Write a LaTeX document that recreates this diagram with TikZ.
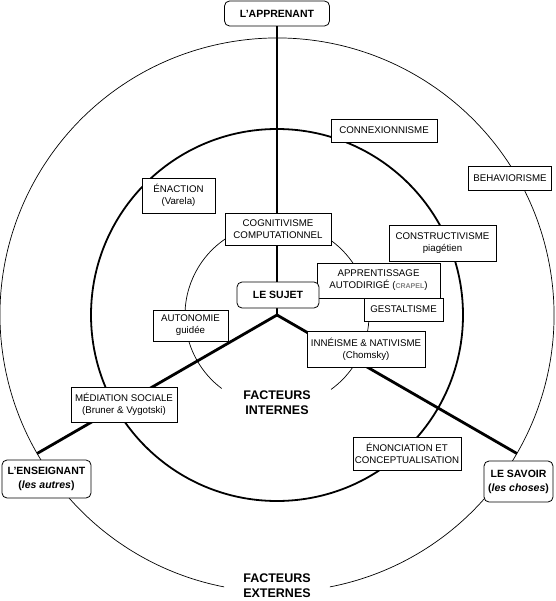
\documentclass[tikz,border=0pt]{standalone}
\usepackage{fontspec}
\setmainfont{Liberation Sans}
\usetikzlibrary{calc}
\begin{document}
\begin{tikzpicture}[x=1pt,y=-1pt,
  box/.style={draw, fill=white, line width=0.8pt, inner sep=0pt, align=center,
    font=\fontsize{9.7}{12}\selectfont},
  rbox/.style={box, rounded corners=5pt, font=\bfseries\fontsize{10.5}{14}\selectfont},
  radial/.style={line width=2.8pt},
  thincirc/.style={line width=0.7pt},
  midcirc/.style={line width=1.8pt},
  bigtext/.style={align=center, font=\bfseries\fontsize{12.5}{15}\selectfont}
]
\useasboundingbox (0,0) rectangle (555,601);
\coordinate (c) at (277,315);
% circles
\draw[thincirc] (c) ++(-54:92pt) arc[start angle=-54, end angle=233, radius=92pt];
\draw[midcirc] (c) circle[radius=186pt];
\draw[thincirc] (c) ++(-79:277pt) arc[start angle=-79, end angle=259, radius=277pt];
% radial end points
\coordinate (eL) at ($(c)+(210:277pt)$);
\coordinate (eR) at ($(c)+(330:277pt)$);
% top box
\node[rbox, minimum width=105pt, minimum height=25pt] (app) at (277,13.5) {L'APPRENANT};
\draw[radial] (app.south) -- (c);
\draw[radial] (c) -- (eL);
\draw[radial] (c) -- (eR);
% boxes
\node[box, minimum width=73pt, minimum height=35pt] (enaction) at (178.5,195.5) {ÉNACTION\\(Varela)};
\node[box, minimum width=106pt, minimum height=32pt] (cogn) at (278,229) {COGNITIVISME\\COMPUTATIONNEL};
\node[box, minimum width=106pt, minimum height=23pt] (connex) at (384,130.5) {CONNEXIONNISME};
\node[box, minimum width=83pt, minimum height=24pt] (behav) at (510,178) {BEHAVIORISME};
\node[box, minimum width=107pt, minimum height=36pt] (constr) at (442.5,243) {CONSTRUCTIVISME\\piagétien};
\node[box, minimum width=123pt, minimum height=35pt] (apprent) at (378.5,280.5) {APPRENTISSAGE\\AUTODIRIGÉ ({\color{gray}\bfseries\fontsize{7}{8}\selectfont CRAPEL})};
\node[box, minimum width=79pt, minimum height=23pt] (gestalt) at (403.5,309.5) {GESTALTISME};
\node[rbox, minimum width=82pt, minimum height=26pt] (sujet) at (278,295) {LE SUJET};
\node[box, minimum width=75pt, minimum height=31pt] (auton) at (190.5,325.5) {AUTONOMIE\\guidée};
\node[box, minimum width=118pt, minimum height=36pt] (inneisme) at (366,349) {INNÉISME \& NATIVISME\\(Chomsky)};
\node[box, minimum width=106pt, minimum height=35pt] (mediation) at (124,404.5) {MÉDIATION SOCIALE\\(Bruner \& Vygotski)};
\node[box, minimum width=108pt, minimum height=33pt] (enonc) at (407,453.5) {ÉNONCIATION ET\\CONCEPTUALISATION};
\node[rbox, minimum width=89pt, minimum height=38pt] (enseignant) at (46.5,479) {L'ENSEIGNANT\\(\textit{les autres})};
\node[rbox, minimum width=69pt, minimum height=41pt] (savoir) at (518.5,481.5) {LE SAVOIR\\(\textit{les choses})};
% texts
\node[bigtext] (internes) at (277,403) {FACTEURS\\INTERNES};
\node[bigtext] (externes) at (277,586) {FACTEURS\\EXTERNES};
\end{tikzpicture}
\end{document}
